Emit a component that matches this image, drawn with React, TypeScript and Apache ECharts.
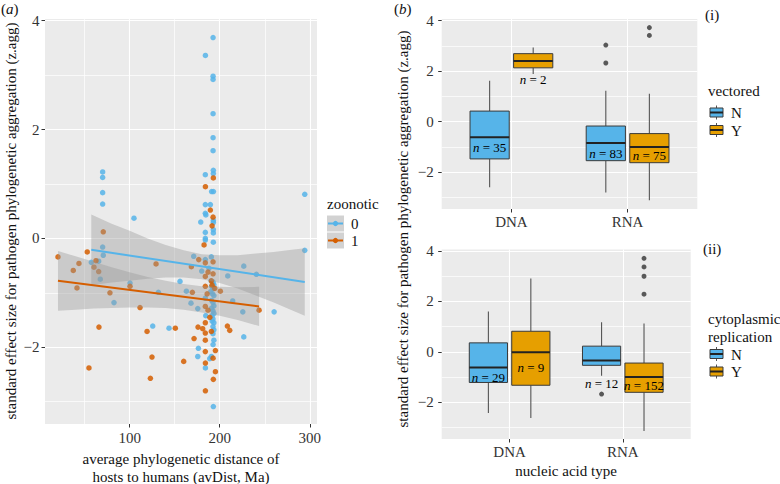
import React, { useEffect, useRef } from 'react';
import * as echarts from 'echarts';

const FONT = '"Liberation Serif", "DejaVu Serif", serif';
const BLUE = '#56B4E9';
const ORANGE = '#D55E00';
const GOLD = '#E69F00';

// ---------- (a) scatter: [avDist, z.agg] ----------
const zoonotic0: number[][] = [
  [192.6, 3.69], [184.1, 3.36], [192.6, 2.98], [192.6, 2.92], [192.6, 2.29], [192.6, 1.85], [192.6, 1.61],
  [192.9, 1.25], [192.9, 1.19], [184.0, 1.17], [191.0, 0.86], [193.0, 0.86], [184.0, 0.62], [189.6, 0.62],
  [184.0, 0.46], [184.6, 0.43], [178.9, 0.30], [192.9, 0.33], [192.9, 0.29], [192.9, 0.16], [192.9, 0.10],
  [184.0, 0.11], [184.0, 0.0], [184.0, -0.03], [192.9, -0.07],
  [70.0, 1.22], [70.0, 1.12], [70.0, 0.84], [70.0, 0.63], [70.0, -0.16], [70.7, -0.31], [104.8, 0.37],
  [294.4, 0.81], [294.4, -0.22], [57.4, -0.44], [65.6, -0.42], [67.4, -0.75], [100.4, -0.82], [82.6, -1.18],
  [131.9, -0.99], [125.6, -1.61], [143.7, -1.65], [155.9, -0.79], [163.0, -0.97], [171.1, -0.33], [168.1, -1.19],
  [176.3, -2.02], [175.6, -2.17], [175.6, -1.29], [188.9, -2.21], [184.1, -2.38], [192.9, -3.09], [208.9, -0.69],
  [214.4, -1.15], [226.7, -0.51], [225.6, -1.35], [226.7, -1.81], [240.7, -0.66], [260.4, -1.35],
  [184.0, -0.39], [190.7, -0.34], [180.0, -0.60], [188.0, -0.55], [190.5, -0.78], [192.5, -0.80], [193.5, -0.85],
  [191.0, -0.88], [192.8, -0.92], [190.0, -0.98], [192.0, -1.02], [193.5, -1.05], [191.0, -1.14], [192.5, -1.18],
  [193.5, -1.24], [191.0, -1.28], [192.5, -1.33], [193.5, -1.38], [191.5, -1.42], [192.5, -1.48], [191.5, -1.52],
  [193.5, -1.55], [192.5, -1.62], [193.5, -1.68], [192.5, -1.75], [193.5, -1.87], [190.7, -2.17], [192.6, -1.95],
  [184.0, -1.10], [184.5, -1.42],
];
const zoonotic1: number[][] = [
  [192.9, 1.11], [184.1, 0.95], [189.6, 0.52], [192.6, 0.39], [191.5, 0.23], [70.7, 0.12], [182.6, -0.12],
  [20.4, -0.34], [52.9, -0.25], [62.6, -0.41], [37.4, -0.59], [43.7, -0.46], [60.4, -0.53], [65.6, -0.61],
  [41.5, -0.91], [100.4, -0.88], [78.1, -1.0], [111.5, -1.27], [129.3, -0.47], [65.9, -1.63], [54.8, -2.38],
  [119.3, -1.71], [150.7, -1.65], [124.8, -2.18], [123.0, -2.57], [160.0, -2.26], [168.5, -0.52], [169.6, -0.99],
  [171.5, -1.84], [175.9, -1.63], [181.1, -1.66], [184.1, -2.29], [184.1, -2.8], [192.9, -2.59], [195.2, -2.45],
  [192.6, -2.2], [195.2, -2.06], [200.7, -0.97], [208.5, -1.61], [211.1, -1.69], [243.7, -1.32],
  [176.7, -0.39], [184.0, -0.45], [192.6, -0.43], [187.0, -0.62], [192.6, -0.65], [184.0, -0.7], [190.7, -0.78],
  [184.0, -0.88], [191.5, -0.86], [194.5, -0.92], [186.0, -1.02], [184.0, -1.25], [187.0, -1.32], [189.0, -1.45],
  [184.0, -1.55], [184.0, -1.74], [184.0, -1.87], [190.7, -1.71], [184.0, -2.08],
];
// fitted lines (endpoints)
const fit0: number[][] = [[57.4, -0.21], [294.4, -0.8]];
const fit1: number[][] = [[20.4, -0.78], [243.7, -1.25]];
// confidence bands: [avDist, lower, upper]
const band0: number[][] = [
  [57.4, -0.86, 0.44], [80, -0.81, 0.27], [100, -0.78, 0.14], [120, -0.74, 0.0], [140, -0.72, -0.12],
  [160, -0.72, -0.22], [180, -0.75, -0.29], [200, -0.82, -0.31], [220, -0.92, -0.31], [240, -1.05, -0.28],
  [260, -1.18, -0.25], [280, -1.32, -0.21], [294.4, -1.42, -0.18],
];
const band1: number[][] = [
  [20.4, -1.33, -0.23], [40, -1.31, -0.33], [60, -1.29, -0.43], [80, -1.28, -0.53], [100, -1.27, -0.62],
  [120, -1.27, -0.71], [140, -1.28, -0.78], [160, -1.31, -0.84], [180, -1.36, -0.88], [200, -1.42, -0.89],
  [220, -1.5, -0.9], [243.7, -1.61, -0.89],
];
const scatterXTicks = [100, 200, 300];
const scatterXMinor = [50, 150, 250];
const zTicks = [-2, 0, 2, 4];
const zMinor = [-3, -1, 1, 3];

// ---------- (b) boxplots ----------
const nucleicTypes = ['DNA', 'RNA'];
// [category (1=DNA, 2=RNA), min, q1, median, q3, max]
const vectoredN: number[][] = [[1, -2.59, -1.47, -0.61, 0.42, 1.62], [2, -2.8, -1.54, -0.84, -0.17, 1.22]];
const vectoredY: number[][] = [[1, 1.89, 2.13, 2.4, 2.69, 2.93], [2, -3.1, -1.62, -1.0, -0.47, 1.11]];
const vectoredNOutliers: number[][] = [[2, 3.03], [2, 2.32]];
const vectoredYOutliers: number[][] = [[2, 3.72], [2, 3.41]];
const vectoredNCounts = [35, 83];
const vectoredYCounts = [2, 75];
const vectoredNLabelY = [-1.02, -1.24];
const vectoredYLabelY = [1.65, -1.34];

const cytoN: number[][] = [[1, -2.42, -1.21, -0.62, 0.36, 1.6], [2, -0.94, -0.53, -0.34, 0.23, 1.18]];
const cytoY: number[][] = [[1, -2.62, -1.32, -0.01, 0.82, 2.91], [2, -3.13, -1.6, -0.99, -0.44, 1.13]];
const cytoNOutliers: number[][] = [[2, -1.67]];
const cytoYOutliers: number[][] = [[2, 3.71], [2, 3.37], [2, 3.0], [2, 2.29]];
const cytoNCounts = [29, 12];
const cytoYCounts = [9, 152];
const cytoNLabelY = [-1.02, -1.25];
const cytoYLabelY = [-0.6, -1.31];

const DODGE = 0.1875;
const BOXW = 0.3375;
const FS = 15;
const NFS = 13;

const fmtNum = (v: number) => (v < 0 ? '\u2212' + Math.abs(v) : String(v));

function yAxisCfg(gridIndex: number, min: number, max: number, margin: number) {
  return {
    type: 'value', gridIndex, min, max, splitNumber: 4,
    axisLine: { show: false, onZero: false },
    axisTick: { show: true, length: 3.5, lineStyle: { color: '#333', width: 1 }, customValues: zTicks },
    axisLabel: { customValues: zTicks, margin, fontFamily: FONT, fontSize: FS, color: '#333', formatter: fmtNum },
    splitLine: { show: true, lineStyle: { color: '#fff', width: 1.1 } },
  };
}
function catAxisCfg(gridIndex: number) {
  return {
    type: 'value', gridIndex, min: 0.4, max: 2.6,
    axisLine: { show: false, onZero: false },
    axisTick: { show: true, length: 3.5, lineStyle: { color: '#333', width: 1 }, customValues: [1, 2] },
    axisLabel: {
      customValues: [1, 2], margin: 5, fontFamily: FONT, fontSize: FS, color: '#333',
      formatter: (v: number) => nucleicTypes[Math.round(v) - 1],
    },
    splitLine: { show: true, lineStyle: { color: '#fff', width: 1.1 } },
  };
}
function minorGridSeries(gridIndex: number, anchor: number[], xs: number[], ys: number[]) {
  return {
    type: 'line', xAxisIndex: gridIndex, yAxisIndex: gridIndex, z: 1, zlevel: 0, symbol: 'none',
    lineStyle: { width: 0 }, data: [anchor],
    markLine: {
      z: 1,
      silent: true, symbol: 'none', label: { show: false }, animation: false,
      lineStyle: { color: '#fff', width: 0.7, type: 'solid', opacity: 1 },
      emphasis: { disabled: true },
      data: [...xs.map((v) => ({ xAxis: v })), ...ys.map((v) => ({ yAxis: v }))],
    },
  };
}

function boxSeries(gridIndex: number, stats: number[][], counts: number[], labelY: number[], fill: string, side: number) {
  return {
    type: 'custom', xAxisIndex: gridIndex, yAxisIndex: gridIndex, z: 6,
    data: stats.map((s, i) => [...s, counts[i], labelY[i]]),
    encode: { x: 0, y: [1, 2, 3, 4, 5] },
    renderItem: (params: any, api: any) => {
      const xc = api.value(0) + side * DODGE;
      const lo = api.coord([xc - BOXW / 2, api.value(2)]);
      const hi = api.coord([xc + BOXW / 2, api.value(4)]);
      const md = api.coord([xc, api.value(3)]);
      const wmin = api.coord([xc, api.value(1)]);
      const wmax = api.coord([xc, api.value(5)]);
      const lab = api.coord([xc, api.value(7)]);
      return {
        type: 'group',
        children: [
          { type: 'line', shape: { x1: md[0], y1: wmax[1], x2: md[0], y2: hi[1] }, style: { stroke: '#555', lineWidth: 1.1 } },
          { type: 'line', shape: { x1: md[0], y1: lo[1], x2: md[0], y2: wmin[1] }, style: { stroke: '#555', lineWidth: 1.1 } },
          { type: 'rect', shape: { x: lo[0], y: hi[1], width: hi[0] - lo[0], height: lo[1] - hi[1] }, style: { fill, stroke: '#3a3a3a', lineWidth: 1 } },
          { type: 'line', shape: { x1: lo[0], y1: md[1], x2: hi[0], y2: md[1] }, style: { stroke: '#222', lineWidth: 2 } },
          {
            type: 'text', x: md[0], y: lab[1],
            style: {
              text: '{i|n} = ' + api.value(6),
              rich: { i: { fontStyle: 'italic', fontFamily: FONT, fontSize: NFS, fill: '#000' } },
              fontFamily: FONT, fontSize: NFS, fill: '#000', align: 'center', verticalAlign: 'middle',
            },
          },
        ],
      };
    },
  };
}
function outlierSeries(gridIndex: number, pts: number[][], side: number) {
  return {
    type: 'scatter', xAxisIndex: gridIndex, yAxisIndex: gridIndex, z: 7,
    symbolSize: 5, itemStyle: { color: '#333' },
    data: pts.map(([c, v]) => [c + side * DODGE, v]),
  };
}

function boxKey(x: number, cy: number, fill: string) {
  return [
    { type: 'line', shape: { x1: x + 6.5, y1: cy - 7, x2: x + 6.5, y2: cy + 7 }, style: { stroke: '#555', lineWidth: 1 } },
    { type: 'rect', shape: { x, y: cy - 4.5, width: 13, height: 9 }, style: { fill, stroke: '#3a3a3a', lineWidth: 1 } },
    { type: 'line', shape: { x1: x, y1: cy, x2: x + 13, y2: cy }, style: { stroke: '#222', lineWidth: 2 } },
  ];
}
function lineKey(x: number, y: number, color: string) {
  return [
    { type: 'rect', shape: { x, y, width: 17, height: 16 }, style: { fill: '#D2D2D2' } },
    { type: 'line', shape: { x1: x + 1, y1: y + 8, x2: x + 16, y2: y + 8 }, style: { stroke: color, lineWidth: 2 } },
    { type: 'circle', shape: { cx: x + 8.5, cy: y + 8, r: 2.6 }, style: { fill: color } },
  ];
}
const txt = (text: string, x: number, y: number, extra: any = {}) => ({
  type: 'text', x, y,
  style: { text, fontFamily: FONT, fontSize: FS, fill: '#111', align: 'left', verticalAlign: 'middle', ...extra },
});
const italicRich = { i: { fontStyle: 'italic', fontFamily: FONT, fontSize: FS, fill: '#111' } };

export default function App() {
  const ref = useRef<HTMLDivElement>(null);
  useEffect(() => {
    if (!ref.current) return;
    const chart = echarts.init(ref.current, null, { renderer: 'svg' });
    const gridBase = { show: true, backgroundColor: '#EBEBEB', borderWidth: 0, containLabel: false, outerBoundsMode: 'none' };
    const yTitle = 'standard effect size for pathogen phylogenetic aggregation (z.agg)';
    const option: any = {
      animation: false,
      backgroundColor: '#fff',
      grid: [
        { ...gridBase, left: 45, top: 19, width: 272, height: 405 },
        { ...gridBase, left: 441.7, top: 19, width: 255.6, height: 190 },
        { ...gridBase, left: 441.7, top: 249.5, width: 249, height: 189.5 },
      ],
      xAxis: [
        {
          type: 'value', gridIndex: 0, min: 6, max: 308, splitNumber: 3,
          axisLine: { show: false, onZero: false },
          axisTick: { show: true, length: 3.5, lineStyle: { color: '#333', width: 1 }, customValues: scatterXTicks },
          axisLabel: { customValues: scatterXTicks, margin: 6, fontFamily: FONT, fontSize: FS, color: '#333' },
          splitLine: { show: true, lineStyle: { color: '#fff', width: 1.1 } },
        },
        catAxisCfg(1),
        catAxisCfg(2),
      ],
      yAxis: [
        yAxisCfg(0, -3.41, 4.03, 5.5),
        yAxisCfg(1, -3.45, 4.06, 8),
        yAxisCfg(2, -3.45, 4.06, 8),
      ],
      series: [
        minorGridSeries(0, [100, 0], scatterXMinor, zMinor),
        minorGridSeries(1, [1, 0], [], zMinor),
        minorGridSeries(2, [1, 0], [], zMinor),
        { type: 'scatter', xAxisIndex: 0, yAxisIndex: 0, z: 6, symbolSize: 5.5, itemStyle: { color: BLUE, opacity: 0.85 }, data: zoonotic0 },
        { type: 'scatter', xAxisIndex: 0, yAxisIndex: 0, z: 6, symbolSize: 5.5, itemStyle: { color: ORANGE, opacity: 0.85 }, data: zoonotic1 },
        {
          type: 'custom', xAxisIndex: 0, yAxisIndex: 0, z: 7,
          data: [[band0[0][0], band0[0][1], 0], [band1[0][0], band1[0][1], 1]],
          encode: { x: 0, y: 1 },
          renderItem: (params: any, api: any) => {
            const band = api.value(2) === 0 ? band0 : band1;
            const pts: number[][] = [];
            band.forEach((b) => pts.push(api.coord([b[0], b[2]])));
            for (let i = band.length - 1; i >= 0; i--) pts.push(api.coord([band[i][0], band[i][1]]));
            return { type: 'polygon', shape: { points: pts }, style: { fill: 'rgba(153,153,153,0.4)' } };
          },
        },
        { type: 'line', xAxisIndex: 0, yAxisIndex: 0, z: 8, symbol: 'none', lineStyle: { color: BLUE, width: 2 }, data: fit0 },
        { type: 'line', xAxisIndex: 0, yAxisIndex: 0, z: 8, symbol: 'none', lineStyle: { color: ORANGE, width: 2 }, data: fit1 },
        boxSeries(1, vectoredN, vectoredNCounts, vectoredNLabelY, BLUE, -1),
        boxSeries(1, vectoredY, vectoredYCounts, vectoredYLabelY, GOLD, 1),
        outlierSeries(1, vectoredNOutliers, -1),
        outlierSeries(1, vectoredYOutliers, 1),
        boxSeries(2, cytoN, cytoNCounts, cytoNLabelY, BLUE, -1),
        boxSeries(2, cytoY, cytoYCounts, cytoYLabelY, GOLD, 1),
        outlierSeries(2, cytoNOutliers, -1),
        outlierSeries(2, cytoYOutliers, 1),
      ],
      graphic: [
        txt('({i|a})', 1, 9, { rich: italicRich }),
        txt('({i|b})', 394, 9, { rich: italicRich }),
        txt('(i)', 705, 15),
        txt('(ii)', 703, 249),
        {
          type: 'text', x: 11, y: 221, rotation: Math.PI / 2,
          style: { text: yTitle, fontFamily: FONT, fontSize: FS, fill: '#111', align: 'center', verticalAlign: 'middle' },
        },
        {
          type: 'text', x: 403, y: 229, rotation: Math.PI / 2,
          style: { text: yTitle, fontFamily: FONT, fontSize: FS, fill: '#111', align: 'center', verticalAlign: 'middle' },
        },
        txt('average phylogenetic distance of', 181, 458.5, { align: 'center' }),
        txt('hosts to humans (avDist, Ma)', 181, 477, { align: 'center' }),
        txt('nucleic acid type', 566, 471, { align: 'center' }),
        // legend (a)
        txt('zoonotic', 327, 204),
        ...lineKey(327, 215.5, BLUE),
        ...lineKey(327, 232.5, ORANGE),
        txt('0', 351, 224),
        txt('1', 351, 241),
        // legend (b)(i)
        txt('vectored', 708, 91),
        ...boxKey(710, 112.5, BLUE),
        ...boxKey(710, 130, GOLD),
        txt('N', 731, 113),
        txt('Y', 731, 130.5),
        // legend (b)(ii)
        txt('cytoplasmic', 708, 319),
        txt('replication', 708, 337),
        ...boxKey(710, 354, BLUE),
        ...boxKey(710, 371.5, GOLD),
        txt('N', 731, 354.5),
        txt('Y', 731, 372),
      ],
    };
    chart.setOption(option);
    return () => chart.dispose();
  }, []);
  return <div ref={ref} style={{ position: 'fixed', left: 0, top: 0, width: 780, height: 484 }} />;
}
